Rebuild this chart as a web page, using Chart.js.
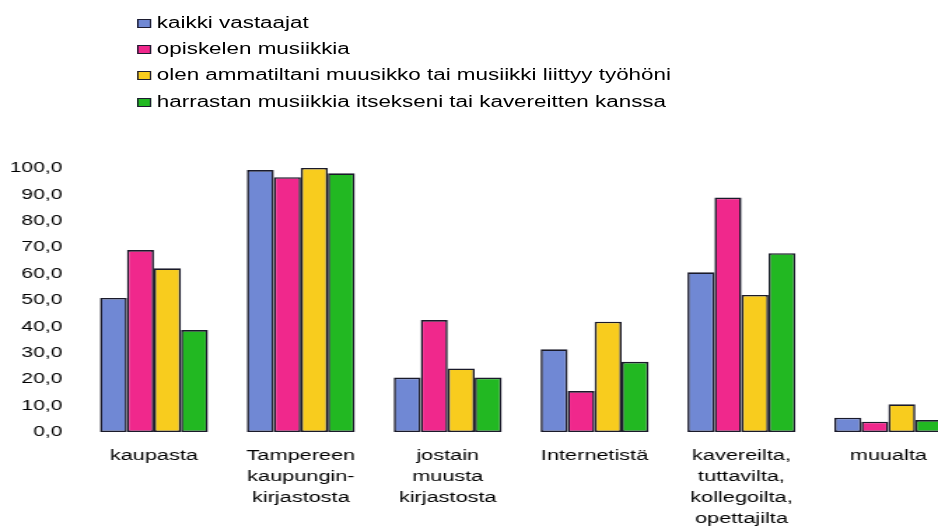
<!DOCTYPE html>
<html>
<head>
<meta charset="utf-8">
<script src="https://cdn.jsdelivr.net/npm/chart.js@4/dist/chart.umd.min.js"></script>
<style>
  html, body { margin: 0; padding: 0; overflow: hidden; background: #fff; width: 938px; height: 526px; }
  /* the reference is horizontally stretched, so draw narrow and stretch */
  #wrap { position: absolute; left: 0; top: 0; width: 687px; height: 526px; transform: scaleX(1.4); transform-origin: 0 0; }
  #legend { position: absolute; left: 98px; top: 10px; font-family: "Liberation Sans", Arial, sans-serif; font-size: 16px; color: #000; }
  #legend div { height: 26.2px; line-height: 26.2px; white-space: nowrap; }
  #legend span { display: inline-block; width: 8px; height: 7px; border: 1.5px solid #1c1c30; margin-right: 4px; vertical-align: 0px; }
</style>
</head>
<body>
<div id="wrap">
  <div id="legend"></div>
  <canvas id="myChart"></canvas>
</div>
<script>
'use strict'

// DATA
const categories = [
  'kaupasta',
  ['Tampereen', 'kaupungin-', 'kirjastosta'],
  ['jostain', 'muusta', 'kirjastosta'],
  'Internetistä',
  ['kavereilta,', 'tuttavilta,', 'kollegoilta,', 'opettajilta'],
  'muualta'
];

const seriesNames = [
  'kaikki vastaajat',
  'opiskelen musiikkia',
  'olen ammatiltani muusikko tai musiikki liittyy työhöni',
  'harrastan musiikkia itsekseni tai kavereitten kanssa'
];

const kaikkiVastaajat = [50.8, 99.2, 20.6, 31.3, 60.5, 5.4];
const opiskelen = [68.9, 96.5, 42.4, 15.5, 88.8, 3.9];
const ammatiltani = [62.0, 100.0, 24.1, 41.8, 51.9, 10.5];
const harrastan = [38.6, 98.0, 20.6, 26.6, 67.7, 4.5];

const yMin = 0;
const yMax = 100;
const yStep = 10;

const colors = ['#7088d4', '#f0288c', '#f8cc1e', '#22b822'];

// CHART
const allSeries = [kaikkiVastaajat, opiskelen, ammatiltani, harrastan];

let datasets = [];
for (let i = 0; i < allSeries.length; i++) {
  datasets.push({
    label: seriesNames[i],
    data: allSeries[i],
    backgroundColor: colors[i],
    borderColor: '#1a1a2a',
    borderWidth: 1.6,
    borderSkipped: false,
    categoryPercentage: 0.735,
    barPercentage: 1.0
  });
}

// html legend from the datasets
let legendBox = document.getElementById('legend');
for (let i = 0; i < datasets.length; i++) {
  let row = document.createElement('div');
  let box = document.createElement('span');
  box.style.background = datasets[i].backgroundColor;
  row.appendChild(box);
  row.appendChild(document.createTextNode(datasets[i].label));
  legendBox.appendChild(row);
}

Chart.defaults.font.family = '"Liberation Sans", Arial, sans-serif';
Chart.defaults.color = '#000';

const config = {
  type: 'bar',
  data: {
    labels: categories,
    datasets: datasets
  },
  options: {
    responsive: true,
    maintainAspectRatio: false,
    animation: false,
    layout: {
      padding: { top: 168, left: 0, right: 0, bottom: 0 }
    },
    plugins: {
      legend: { display: false },
      tooltip: { enabled: false }
    },
    scales: {
      x: {
        grid: { display: false, drawTicks: false },
        border: { display: false },
        ticks: {
          font: { size: 15.5, lineHeight: 1.36 },
          padding: 13,
          maxRotation: 0,
          autoSkip: false
        },
        afterFit: function (scale) { scale.height = 94; }
      },
      y: {
        min: yMin,
        max: yMax,
        grid: { display: false, drawTicks: false },
        border: { display: false },
        ticks: {
          stepSize: yStep,
          font: { size: 15 },
          padding: 13,
          callback: function (value) { return value.toFixed(1).replace('.', ','); }
        },
        afterFit: function (scale) { scale.width = 57.5; }
      }
    }
  }
};

let canvasChart = document.getElementById('myChart');
const myChart = new Chart(canvasChart, config);
</script>
</body>
</html>
